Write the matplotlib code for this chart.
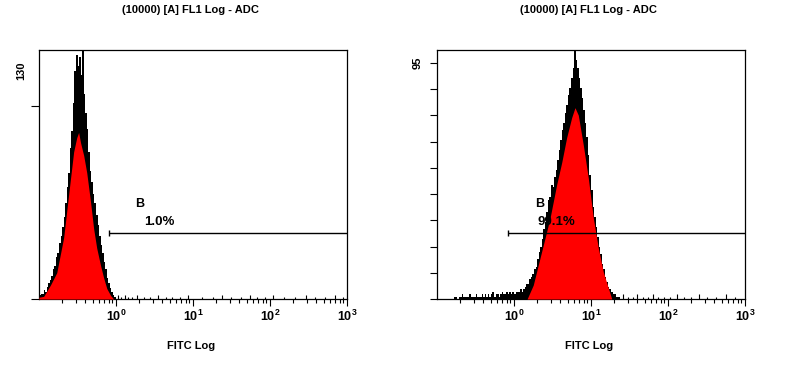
import numpy as np
import matplotlib
matplotlib.use("Agg")
import matplotlib.pyplot as plt
from matplotlib.ticker import NullFormatter

plt.rcParams['font.family'] = ['Liberation Sans', 'DejaVu Sans']
plt.rcParams['mathtext.fontset'] = 'custom'
plt.rcParams['mathtext.rm'] = 'Liberation Sans'
plt.rcParams['mathtext.bf'] = 'Liberation Sans:bold'

TITLE = "(10000) [A] FL1 Log - ADC"
XLABEL = "FITC Log"

# --- left histogram: raw counts, bins of 0.02 decade starting at 10^-1 ---
left_start = -1.0
left_counts = [2, 3, 3, 5, 4, 7, 9, 11, 13, 17,
               19, 24, 26, 32, 36, 41, 47, 55, 64, 72,
               86, 96, 112, 130, 139, 133, 138, 128, 150, 117,
               106, 97, 84, 73, 67, 60, 55, 48, 42, 36,
               31, 26, 21, 17, 12, 9, 6, 4, 2, 1]
# smoothed (red) profile
left_red_x = [0.1, 0.115, 0.141, 0.17, 0.209, 0.257, 0.282, 0.309, 0.327, 0.347,
              0.38, 0.417, 0.468, 0.513, 0.562, 0.631, 0.692, 0.759, 0.851, 0.933]
left_red_y = [1, 1.5, 8, 15, 35, 69, 84, 92, 95, 89,
              82, 72, 55, 40, 29, 19, 12, 6, 2, 0]
# scattered single events
left_sparse_x = [1.05, 1.15, 1.3, 1.45, 1.6, 1.9, 2.3, 2.8, 3.5, 4.4, 5.3, 6.8, 8.5,
                 13, 18, 24, 31, 42, 55, 68, 85, 110, 150, 210, 290, 380, 520, 700, 900]
left_sparse_y = [2, 1, 2, 1, 1, 2, 1, 1, 2, 1, 1, 1, 2,
                 1, 1, 2, 1, 1, 2, 1, 1, 2, 1, 1, 2, 1, 1, 2, 1]

# --- right histogram ---
right_start = -0.8
right_counts = [0, 1, 1, 0, 1, 1, 2, 1, 1, 1,
                1, 2, 1, 1, 1, 2, 1, 1, 1, 2,
                1, 2, 1, 2, 1, 2, 3, 1, 2, 2,
                1, 2, 3, 2, 2, 3, 2, 3, 2, 3,
                2, 3, 3, 3, 4, 3, 4, 5, 6, 6,
                8, 9, 10, 12, 13, 16, 19, 21, 24, 28,
                31, 35, 40, 41, 46, 45, 49, 52, 56, 60,
                64, 68, 71, 75, 78, 82, 85, 89, 93, 101,
                96, 93, 89, 85, 81, 76, 71, 65, 58, 50,
                44, 37, 33, 29, 25, 21, 18, 14, 12, 9,
                7, 5, 4, 3, 2, 2, 1, 1, 1, 0]
right_red_x = [1.479, 1.778, 2.178, 2.529, 2.938, 3.581, 4.169, 4.831, 5.61, 6.194,
               6.839, 7.943, 9.226, 10.72, 12.45, 14.45, 16.79, 18.62]
right_red_y = [0, 5.6, 16.5, 24.5, 32.6, 46, 55, 65, 73, 77,
               74, 62, 48.7, 32.6, 20.5, 10.9, 4.4, 0]
right_sparse_x = [26, 30, 35, 40, 47, 55, 63, 75, 90, 105, 130, 160, 200, 250, 320, 420, 560, 750]
right_sparse_y = [2, 1, 1, 2, 1, 1, 2, 1, 1, 1, 2, 1, 1, 2, 1, 1, 2, 1]

# gate markers: start, level, percent
left_gate = (0.81, 37.6, "1.0%")
right_gate = (0.835, 26.6, "99.1%")


def bin_edges(start, n):
    return 10 ** (start + 0.02 * np.arange(n + 1))


def draw_panel(ax, start, counts, red_x, red_y, sp_x, sp_y, gate, ymax,
               label_pos, cap):
    ax.stairs(counts, bin_edges(start, len(counts)), fill=True,
              color="black", zorder=2)
    ax.fill_between(red_x, red_y, color="#ff0000", lw=0, zorder=3)
    ax.vlines(sp_x, 0, sp_y, color="black", lw=0.8, zorder=2)

    g0, gy, pct = gate
    ax.hlines(gy, g0, 1000, color="black", lw=1, zorder=4)
    ax.vlines(g0, gy - cap, gy + cap, color="black", lw=1, zorder=4)
    bx, by, px, py = label_pos
    ax.text(bx, by, "B", fontsize=9, fontweight="bold", ha="center",
            va="center", zorder=5)
    ax.text(px, py, pct, fontsize=9.5, fontweight="bold", ha="center",
            va="center", zorder=5)

    ax.set_xscale("log")
    ax.set_xlim(0.1, 1000)
    ax.set_ylim(0, ymax)
    ax.set_xticks([1, 10, 100, 1000],
                  [r"$\mathbf{10^{0}}$", r"$\mathbf{10^{1}}$",
                   r"$\mathbf{10^{2}}$", r"$\mathbf{10^{3}}$"])
    ax.xaxis.set_minor_formatter(NullFormatter())
    ax.tick_params(axis="x", which="major", length=5, width=0.8, pad=2,
                   labelsize=9)
    ax.tick_params(axis="x", which="minor", length=3, width=0.8)
    for s in ax.spines.values():
        s.set_linewidth(0.9)


fig = plt.figure(figsize=(8, 3.76), dpi=100)
ax1 = fig.add_axes([39 / 800, 77 / 376, 308 / 800, 249 / 376])
ax2 = fig.add_axes([437 / 800, 77 / 376, 308 / 800, 249 / 376])

draw_panel(ax1, left_start, left_counts, left_red_x, left_red_y,
           left_sparse_x, left_sparse_y, left_gate, 142,
           (2.04, 54, 3.6, 43.9), 1.7)
draw_panel(ax2, right_start, right_counts, right_red_x, right_red_y,
           right_sparse_x, right_sparse_y, right_gate, 100.2,
           (2.18, 38.2, 3.5, 31), 1.2)

# left y axis: label 130 without mark, marks at 0 and 110
ax1.set_yticks([130], ["130"])
ax1.set_yticks([0, 110], minor=True)
ax1.tick_params(axis="y", which="major", length=0, pad=9, labelsize=8,
                labelrotation=90)
ax1.tick_params(axis="y", which="minor", length=6, width=0.8)

# right y axis: ten marks, only the top one labelled
ax2.set_yticks([95], ["95"])
ax2.set_yticks([k * 95 / 9 for k in range(9)], minor=True)
ax2.tick_params(axis="y", which="major", length=5, width=0.8, pad=5,
                labelsize=8, labelrotation=90)
ax2.tick_params(axis="y", which="minor", length=5, width=0.8)
for lab in ax1.get_yticklabels() + ax2.get_yticklabels():
    lab.set_va("center")
    lab.set_fontweight("bold")

for ax in (ax1, ax2):
    bb = ax.get_position()
    cx = (bb.x0 + bb.x1) / 2
    fig.text(cx - 3 / 800, 1 - 10 / 376, TITLE, ha="center", va="center",
             fontsize=8, fontweight="bold")
    fig.text(cx - 2 / 800, 1 - 346 / 376, XLABEL, ha="center", va="center",
             fontsize=8, fontweight="bold")

fig.savefig("out.png", dpi=100)
